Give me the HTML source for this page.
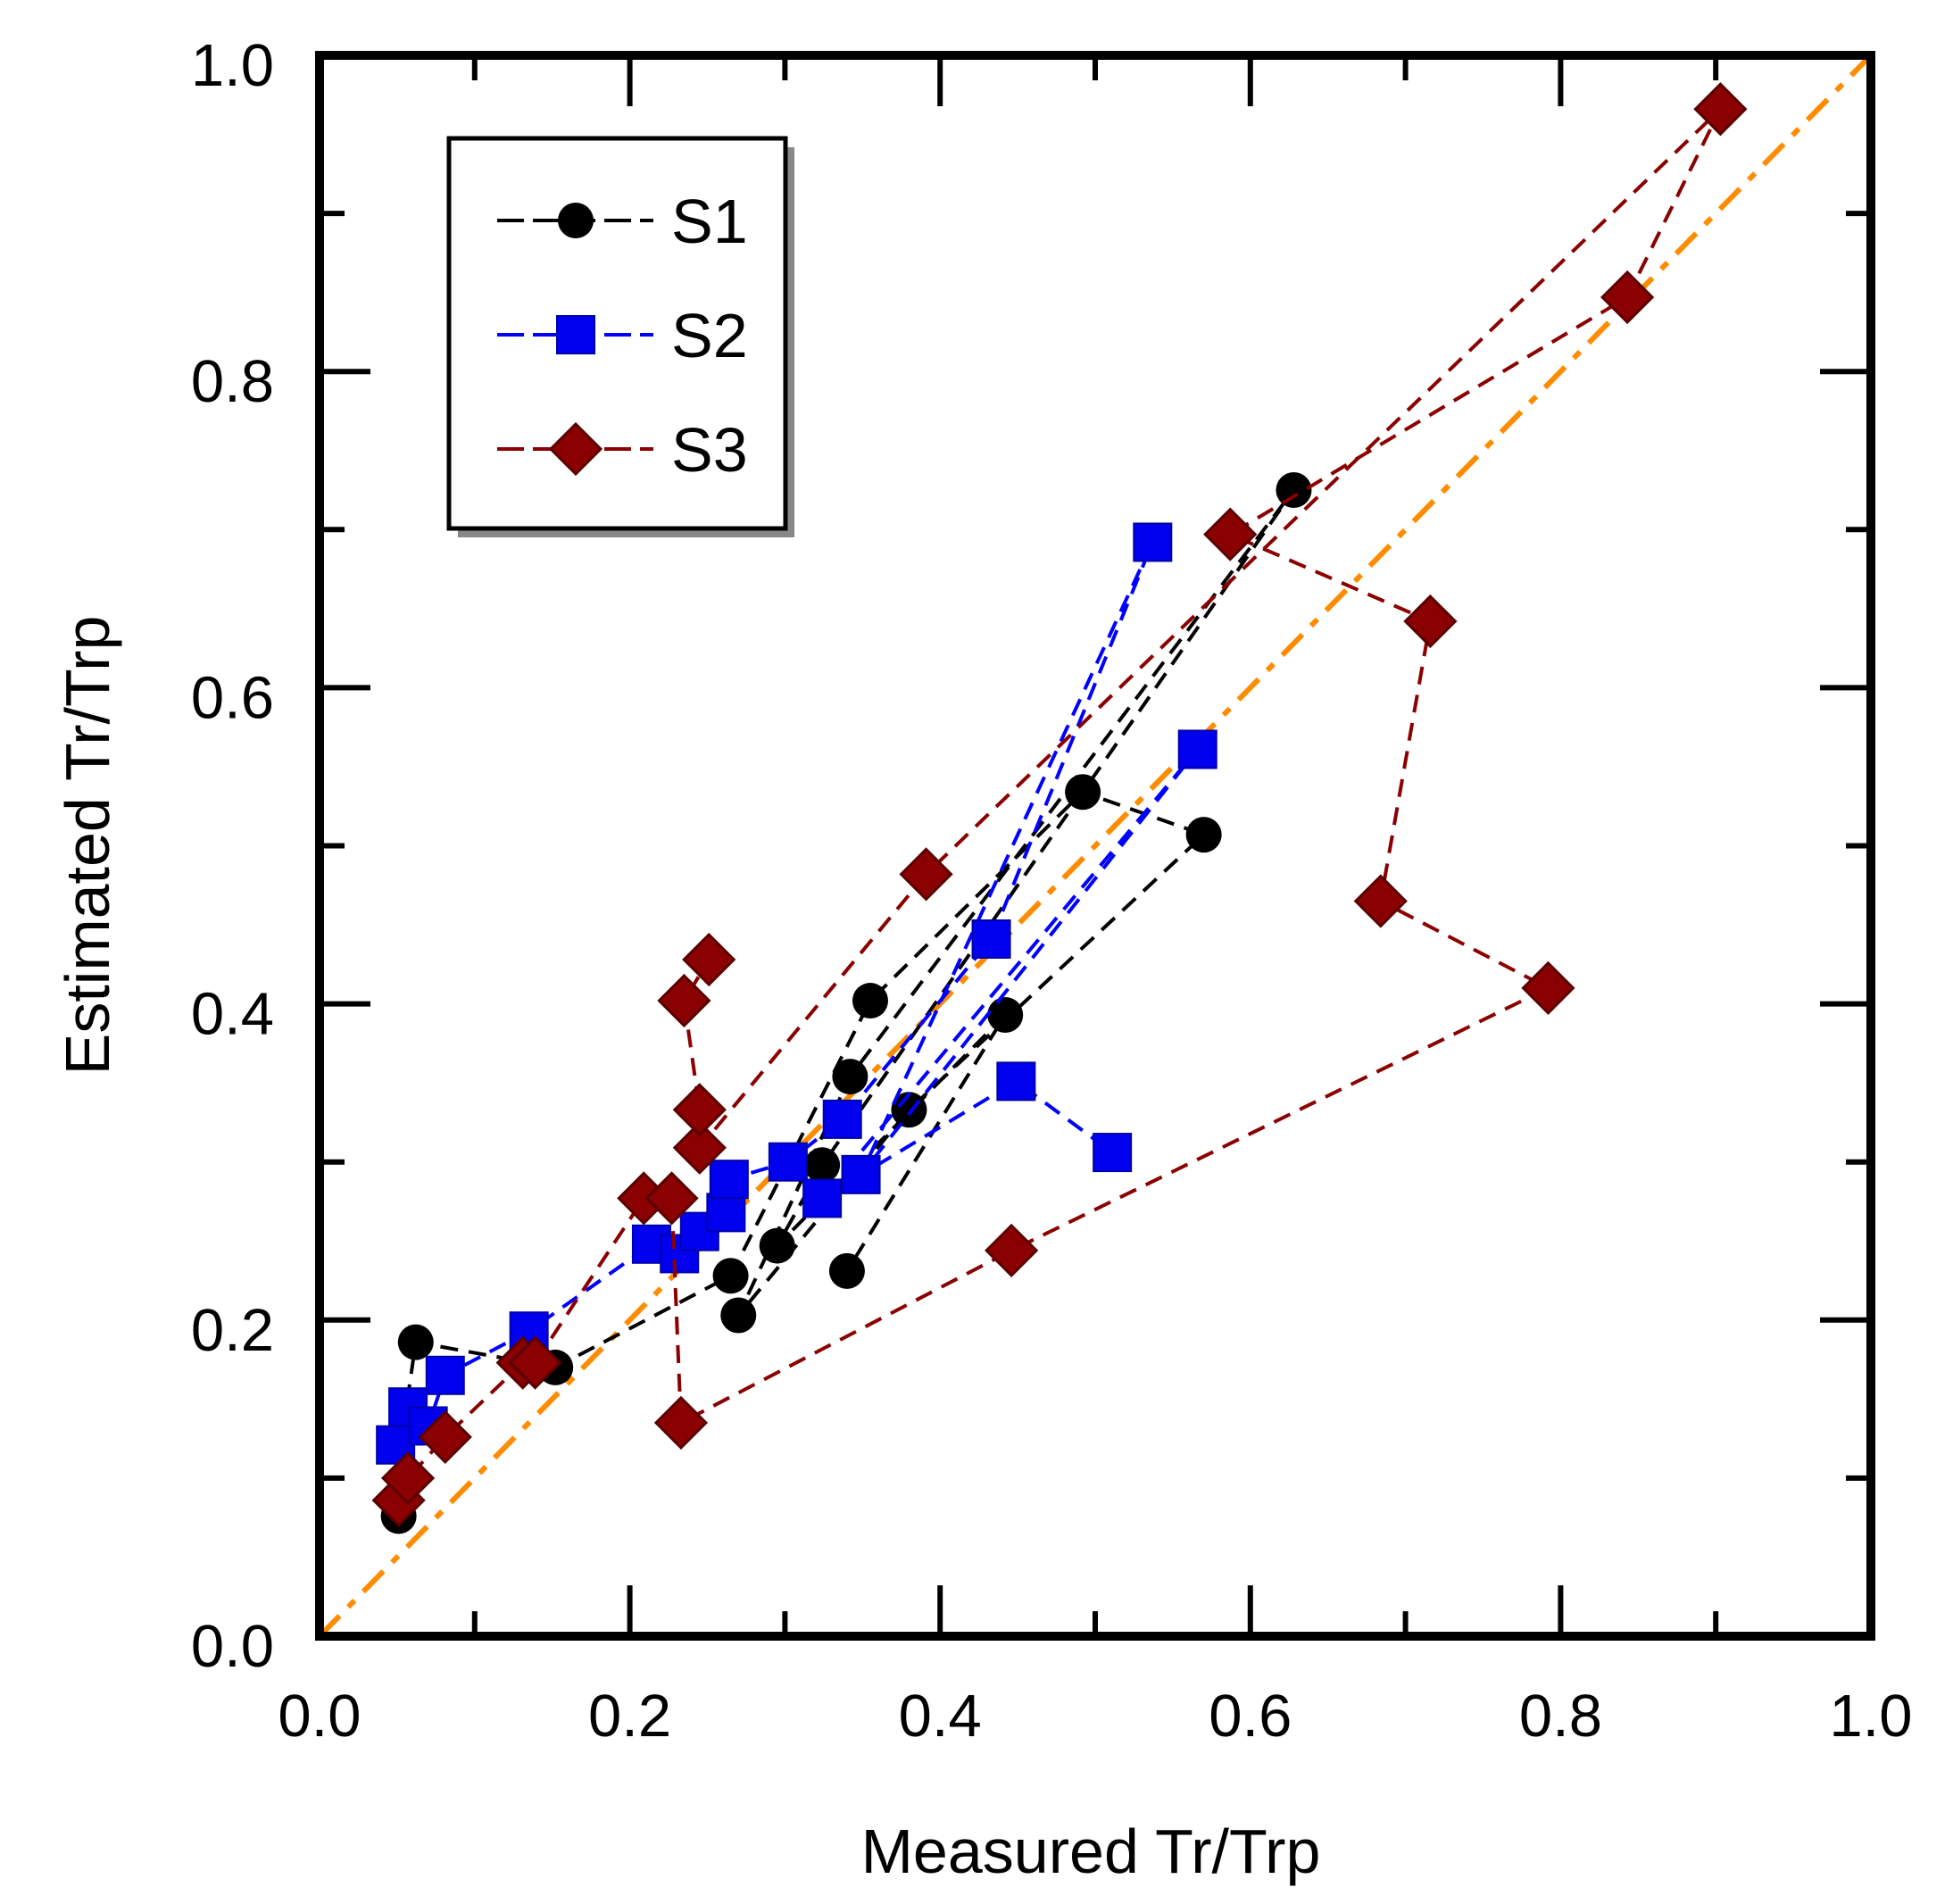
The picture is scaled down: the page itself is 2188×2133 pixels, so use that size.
<!DOCTYPE html>
<html><head><meta charset="utf-8"><style>
html,body{margin:0;padding:0;background:#fff;}
svg{display:block;font-family:"Liberation Sans",Arial,sans-serif;}
</style></head><body>
<svg id="chart" width="2188" height="2133" viewBox="0 0 2188 2133" xmlns="http://www.w3.org/2000/svg">
<rect width="2188" height="2133" fill="#fff"/>
<g id="ticks"></g>
<g id="labels"></g>
<line id="diag" stroke="#ff8c00" stroke-width="6" stroke-dasharray="32 14 10 14"/>
<g id="series"></g>
<rect x="358" y="62" width="1738" height="1771" fill="none" stroke="#000" stroke-width="10"/>
<g>
  <rect x="513" y="165" width="377" height="437" fill="#888"/>
  <rect x="503" y="155" width="377" height="437" fill="#fff" stroke="#000" stroke-width="5"/>
  <g>
    <line x1="557" y1="247" x2="732" y2="247" stroke="#000" stroke-width="4" stroke-dasharray="30 10"/>
    <circle cx="645" cy="247" r="20" fill="#000"/>
    <text x="752" y="272" font-size="70" fill="#000">S1</text>
  </g>
  <g>
    <line x1="557" y1="375" x2="732" y2="375" stroke="#0000ff" stroke-width="4" stroke-dasharray="30 10"/>
    <rect x="624" y="354" width="42" height="42" fill="#0000ee" stroke="#0000aa" stroke-width="2"/>
    <text x="752" y="400" font-size="70" fill="#000">S2</text>
  </g>
  <g>
    <line x1="557" y1="503" x2="732" y2="503" stroke="#8b0000" stroke-width="4" stroke-dasharray="30 10"/>
    <polygon points="645,475 673,503 645,531 617,503" fill="#8b0000" stroke="#5a0000" stroke-width="3"/>
    <text x="752" y="528" font-size="70" fill="#000">S3</text>
  </g>
</g>
<text x="1222" y="2098" font-size="70" text-anchor="middle">Measured Tr/Trp</text>
<text x="0" y="0" font-size="70" text-anchor="middle" transform="translate(122,947) rotate(-90)">Estimated Tr/Trp</text>
</svg>
<script>
const xTicks = [0, 0.2, 0.4, 0.6, 0.8, 1.0];
const yTicks = [0, 0.2, 0.4, 0.6, 0.8, 1.0];
const tickLabels = ["0.0", "0.2", "0.4", "0.6", "0.8", "1.0"];
const s1x = [0.051,0.056,0.062,0.152,0.265,0.355,0.492,0.570,0.380,0.270,0.342,0.628,0.324,0.295,0.442,0.340];
const s1y = [0.076,0.145,0.186,0.170,0.228,0.402,0.534,0.507,0.333,0.203,0.354,0.725,0.298,0.247,0.393,0.231];
const s2x = [0.049,0.057,0.070,0.081,0.135,0.214,0.232,0.245,0.262,0.264,0.302,0.337,0.433,0.537,0.349,0.566,0.324,0.449,0.511];
const s2y = [0.121,0.145,0.133,0.165,0.193,0.248,0.242,0.256,0.268,0.289,0.300,0.327,0.441,0.692,0.292,0.561,0.277,0.351,0.306];
const s3x = [0.051,0.057,0.081,0.131,0.139,0.209,0.227,0.233,0.446,0.792,0.684,0.716,0.587,0.843,0.903,0.391,0.245,0.245,0.235,0.251];
const s3y = [0.086,0.100,0.126,0.173,0.173,0.277,0.277,0.135,0.244,0.410,0.465,0.642,0.697,0.847,0.966,0.482,0.309,0.333,0.402,0.428];

const L=358,R=2096,T=62,B=1833;
function sx(v){return L+v*(R-L);}
function sy(v){return B-v*(B-T);}
const NS="http://www.w3.org/2000/svg";
function mk(tag,attrs,parent){const e=document.createElementNS(NS,tag);for(const k in attrs)e.setAttribute(k,attrs[k]);parent.appendChild(e);return e;}

const tg=document.getElementById('ticks');
for(let i=0;i<=10;i++){
  const v=i/10, len=(i%2===0)?57:28;
  const a=mk('line',{x1:sx(v),y1:B,x2:sx(v),y2:B-len,stroke:'#000','stroke-width':6},tg);
  
  
  const b=mk('line',{x1:sx(v),y1:T,x2:sx(v),y2:T+len,stroke:'#000','stroke-width':6},tg);
  
  
  const c=mk('line',{x1:L,y1:sy(v),x2:L+len,y2:sy(v),stroke:'#000','stroke-width':6},tg);
  
  
  const d=mk('line',{x1:R,y1:sy(v),x2:R-len,y2:sy(v),stroke:'#000','stroke-width':6},tg);
  
  
}
const lg=document.getElementById('labels');
xTicks.forEach((v,i)=>{
  const t=mk('text',{x:sx(v),y:1945,'font-size':67,'text-anchor':'middle'},lg);
  t.textContent=tickLabels[i];
  
  
});
yTicks.forEach((v,i)=>{
  const t=mk('text',{x:307,y:sy(v)+34,'font-size':67,'text-anchor':'end'},lg);
  t.textContent=tickLabels[i];
  
  
});
const dg=document.getElementById('diag');
dg.setAttribute('x1',sx(0));dg.setAttribute('y1',sy(0));dg.setAttribute('x2',sx(1));dg.setAttribute('y2',sy(1));

const sg=document.getElementById('series');
function drawSeries(xs,ys,color,name){
  const g=mk('g',{},sg);
  
  
  const pts=xs.map((x,i)=>sx(x)+','+sy(ys[i])).join(' ');
  const pl=mk('polyline',{points:pts,fill:'none',stroke:color,'stroke-width':4,'stroke-dasharray':'20 12'},g);
  
  
  return g;
}
const g1=drawSeries(s1x,s1y,'#000','series-s1');
const g2=drawSeries(s2x,s2y,'#0000ff','series-s2');
const g3=drawSeries(s3x,s3y,'#8b0000','series-s3');
s1x.forEach((x,i)=>{
  const c=mk('circle',{cx:sx(x),cy:sy(s1y[i]),r:20,fill:'#000'},g1);
  
  
});
s2x.forEach((x,i)=>{
  const r=mk('rect',{x:sx(x)-21,y:sy(s2y[i])-21,width:42,height:42,fill:'#0000ee',stroke:'#0000aa','stroke-width':2},g2);
  
  
});
s3x.forEach((x,i)=>{
  const cx=sx(x),cy=sy(s3y[i]),h=28;
  const p=mk('polygon',{points:`${cx},${cy-h} ${cx+h},${cy} ${cx},${cy+h} ${cx-h},${cy}`,fill:'#8b0000',stroke:'#5a0000','stroke-width':3},g3);
  
  
});
</script>
</body></html>
